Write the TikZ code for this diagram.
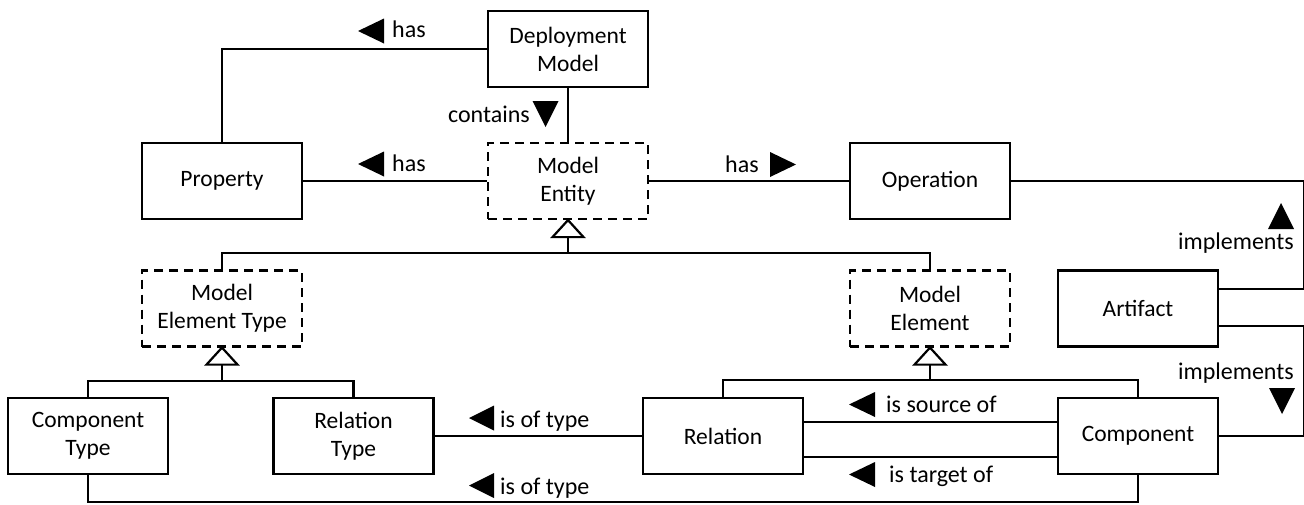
\documentclass[tikz,border=0pt]{standalone}
\usepackage{fontspec}
\setmainfont{Carlito}
\begin{document}
\begin{tikzpicture}[x=1pt,y=-1pt,
  conn/.style={line width=2.2pt},
  box/.style={draw, line width=2.2pt, minimum width=160pt, minimum height=76pt, inner sep=0pt, align=center, font=\fontsize{23.5}{28}\selectfont},
  dbox/.style={box, dash pattern=on 9pt off 6pt},
  lbl/.style={inner sep=0pt, font=\fontsize{24}{28}\selectfont},
  gen/.style={line width=2.2pt, fill=white},
  tri/.style={fill=black}]
\useasboundingbox (0,0) rectangle (1304,504);
% nodes
\node[box]  (dm)   at (568,49)    {Deployment\\Model};
\node[box]  (prop) at (222,181)   {Property};
\node[dbox] (me)   at (568,181)   {Model\\Entity};
\node[box]  (op)   at (930,181)   {Operation};
\node[dbox] (met)  at (222,308.5) {Model\\Element Type};
\node[dbox] (mel)  at (930,308.5) {Model\\Element};
\node[box]  (art)  at (1138,308.5){Artifact};
\node[box]  (ct)   at (88,436)    {Component\\Type};
\node[box]  (rt)   at (353.5,436) {Relation\\Type};
\node[box]  (rel)  at (723,436)   {Relation};
\node[box]  (comp) at (1138,436)  {Component};
% helper coordinates
\coordinate (rx) at (1304,0);
\coordinate (by) at (0,502);
\coordinate (g1) at (0,253);
\coordinate (g2) at (0,381);
\coordinate (g3) at (0,380);
% connectors
\draw[conn] (dm.west) -| (prop.north);
\draw[conn] (prop.east) -- (me.west);
\draw[conn] (dm.south) -- (me.north);
\draw[conn] (me.east) -- (op.west);
\draw[conn] (op.east) -| ([yshift=19.6pt]art.east -| rx) -- ([yshift=19.6pt]art.east);
\draw[conn] ([yshift=-17.7pt]art.east) -- ([yshift=-17.7pt]art.east -| rx) |- (comp.east);
\draw[conn] (rt.east) -- (rel.west);
\draw[conn] ([yshift=14.3pt]rel.east) -- ([yshift=14.3pt]comp.west);
\draw[conn] ([yshift=-21pt]rel.east) -- ([yshift=-21pt]comp.west);
\draw[conn] (ct.south) -- (ct.south |- by) -- (comp.south |- by) -- (comp.south);
% generalization: Model Entity
\draw[conn] ([yshift=-17pt]me.south) -- (me.south |- g1);
\draw[conn] (met.north) -- (met.north |- g1) -- (mel.north |- g1) -- (mel.north);
\draw[gen] (me.south) -- ++(-15.5,17) -- ++(31,0) -- cycle;
% generalization: Model Element Type
\draw[conn] ([yshift=-17pt]met.south) -- (met.south |- g2);
\draw[conn] (ct.north) -- (ct.north |- g2) -- (rt.north |- g2) -- (rt.north);
\draw[gen] (met.south) -- ++(-15.5,17) -- ++(31,0) -- cycle;
% generalization: Model Element
\draw[conn] ([yshift=-17pt]mel.south) -- (mel.south |- g3);
\draw[conn] (rel.north) -- (rel.north |- g3) -- (comp.north |- g3) -- (comp.north);
\draw[gen] (mel.south) -- ++(-15.5,17) -- ++(31,0) -- cycle;
% labels
\fill[tri] (358,31) -- ++(26,-12.5) -- ++(0,25) -- cycle;
\node[lbl, anchor=base west] (l1) at (392,37) {has};
\fill[tri] (358,164) -- ++(26,-12.5) -- ++(0,25) -- cycle;
\node[lbl, anchor=base west] (l2) at (392,171) {has};
\node[lbl, anchor=base east] (l3) at (530,122) {contains};
\fill[tri] (545.5,127) -- ++(-13,-26) -- ++(26,0) -- cycle;
\node[lbl, anchor=base west] (l4) at (725,172) {has};
\fill[tri] (796,164.5) -- ++(-26,-12.5) -- ++(0,25) -- cycle;
\fill[tri] (1281,203) -- ++(-13,26) -- ++(26,0) -- cycle;
\node[lbl, anchor=base east] (l5) at (1294,249) {implements};
\node[lbl, anchor=base east] (l6) at (1294,379) {implements};
\fill[tri] (1282,414) -- ++(-13,-26) -- ++(26,0) -- cycle;
\fill[tri] (469,418) -- ++(25,-12.5) -- ++(0,25) -- cycle;
\node[lbl, anchor=base west] (l7) at (500,427) {is of type};
\fill[tri] (469,485.5) -- ++(25,-12.5) -- ++(0,25) -- cycle;
\node[lbl, anchor=base west] (l8) at (500,494) {is of type};
\fill[tri] (849,404.5) -- ++(26,-12.5) -- ++(0,25) -- cycle;
\node[lbl, anchor=base west] (l9) at (886,412) {is source of};
\fill[tri] (849,474.5) -- ++(26,-12.5) -- ++(0,25) -- cycle;
\node[lbl, anchor=base west] (l10) at (889,482) {is target of};
\end{tikzpicture}
\end{document}
